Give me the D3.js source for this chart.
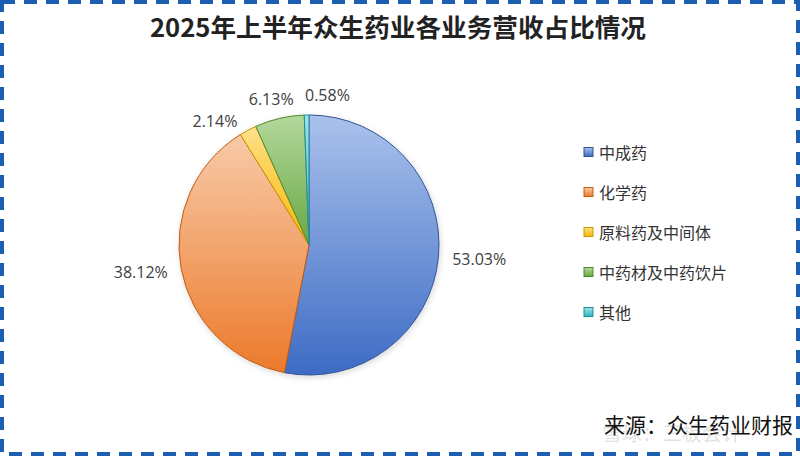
<!DOCTYPE html>
<html><head><meta charset="utf-8">
<script src="https://cdn.jsdelivr.net/npm/d3@7/dist/d3.min.js"></script>
<style>html,body{margin:0;padding:0;background:#fff;}svg{display:block;}</style>
</head><body>
<svg id="chart" width="800" height="456"></svg>
<script>
const title = "2025年上半年众生药业各业务营收占比情况";
const categories = ["中成药", "化学药", "原料药及中间体", "中药材及中药饮片", "其他"];
const values = [53.03, 38.12, 2.14, 6.13, 0.58];
const lightColors = ["#aac2ec", "#f8caa8", "#ffe08a", "#b4d89c", "#9fe3ea"];
const darkColors = ["#3d6bc4", "#ec7a2b", "#f7b800", "#68a843", "#30b4c2"];
const strokeColors = ["#2f5597", "#c55a11", "#c99700", "#4e8a2e", "#1f8f9c"];
const source = "来源：众生药业财报";
const watermark = "雪球：三板会计";

const svg = d3.select("#chart");
const W = 800, H = 456;
svg.append("rect").attr("width", W).attr("height", H).attr("fill", "#fff");

const defs = svg.append("defs");
categories.forEach((c, i) => {
  const g = defs.append("linearGradient").attr("id", "g" + i)
    .attr("x1", 0).attr("y1", 0).attr("x2", 0).attr("y2", 1);
  g.append("stop").attr("offset", "0%").attr("stop-color", lightColors[i]);
  g.append("stop").attr("offset", "100%").attr("stop-color", darkColors[i]);
});
const f = defs.append("filter").attr("id", "sh").attr("x", "-20%").attr("y", "-20%").attr("width", "140%").attr("height", "140%");
f.append("feDropShadow").attr("dx", 1).attr("dy", 2).attr("stdDeviation", 3).attr("flood-color", "#000").attr("flood-opacity", 0.18);

// border
svg.append("rect").attr("x", 2).attr("y", 2).attr("width", W - 4).attr("height", H - 4)
  .attr("fill", "none").attr("stroke", "#1c5fb2").attr("stroke-width", 4)
  .attr("stroke-dasharray", "13 9");

// title
svg.append("text").attr("x", 398).attr("y", 37).attr("text-anchor", "middle")
  .attr("font-family", "'Noto Sans CJK SC', sans-serif").attr("font-weight", "bold")
  .attr("font-size", 25).attr("fill", "#222")
  .attr("textLength", 496).attr("lengthAdjust", "spacingAndGlyphs")
  .text(title);

// pie
const cx = 309, cy = 245, r = 130;
const pie = d3.pie().sort(null).value(d => d)(values);
const arc = d3.arc().innerRadius(0).outerRadius(r);
const gp = svg.append("g").attr("transform", `translate(${cx},${cy})`);
gp.append("circle").attr("r", r).attr("fill", "#fff").attr("filter", "url(#sh)");
gp.selectAll("path").data(pie).join("path")
  .attr("d", arc)
  .attr("fill", (d, i) => `url(#g${i})`)
  .attr("stroke", (d, i) => strokeColors[i])
  .attr("stroke-width", 1)
  .attr("stroke-linejoin", "round");

// labels ("outside end" placement with tangential collision avoidance)
const fmt = v => v.toFixed(2) + "%";
const labelFont = 16, hh = 6, gap = 14, pad = 11;
const lg = svg.append("g").attr("font-family", "'Open Sans', sans-serif").attr("font-size", labelFont).attr("fill", "#404040");
const meas = lg.append("text").attr("visibility", "hidden");
const items = pie.map((d, i) => {
  const t = fmt(values[i]);
  meas.text(t);
  const w = meas.node().getComputedTextLength();
  return { t, w, v: values[i], a: (d.startAngle + d.endAngle) / 2, shift: 0 };
});
meas.remove();
function place(it) {
  const s = Math.sin(it.a), c = -Math.cos(it.a);
  // tangent (clockwise) direction
  const tx = Math.cos(it.a), ty = Math.sin(it.a);
  it.x = cx + s * (r + gap) + s * it.w / 2 + tx * it.shift;
  it.y = cy + c * (r + gap) + c * hh + ty * it.shift;
}
function overlaps(a, b) {
  return Math.abs(a.x - b.x) < (a.w + b.w) / 2 + pad && Math.abs(a.y - b.y) < 2 * hh + pad;
}
const order = items.slice().sort((a, b) => b.v - a.v);
const placed = [];
order.forEach(it => {
  place(it);
  let guard = 0;
  let hit = placed.find(p => overlaps(p, it));
  while (hit && guard < 200) {
    it.shift += (it.a > hit.a ? 0.5 : -0.5);
    place(it);
    hit = placed.find(p => overlaps(p, it));
    guard++;
  }
  placed.push(it);
});
lg.selectAll("text.lbl").data(items).join("text").attr("class", "lbl")
  .attr("x", d => d.x).attr("y", d => d.y)
  .attr("text-anchor", "middle").attr("dominant-baseline", "central")
  .text(d => d.t);

// legend
const legend = svg.append("g").attr("transform", "translate(584,152)");
const li = legend.selectAll("g").data(categories).join("g")
  .attr("transform", (d, i) => `translate(0,${i * 40})`);
li.append("rect").attr("x", 0).attr("y", -4.5).attr("width", 9).attr("height", 9)
  .attr("fill", (d, i) => `url(#g${i})`).attr("stroke", (d, i) => strokeColors[i]).attr("stroke-width", 1);
li.append("text").attr("x", 15).attr("y", 0).attr("dominant-baseline", "central")
  .attr("font-family", "'Noto Sans CJK SC', sans-serif").attr("font-size", 16).attr("fill", "#333")
  .text(d => d);

// watermark + source
svg.append("text").attr("x", 602).attr("y", 441)
  .attr("font-family", "'Noto Sans CJK SC', sans-serif").attr("font-size", 20)
  .attr("fill", "#cfcfcf").attr("opacity", 0.6).text(watermark);
svg.append("text").attr("x", 793).attr("y", 433).attr("text-anchor", "end")
  .attr("font-family", "'Noto Sans CJK SC', sans-serif").attr("font-size", 21)
  .attr("fill", "#111").text(source);
</script>
</body></html>
